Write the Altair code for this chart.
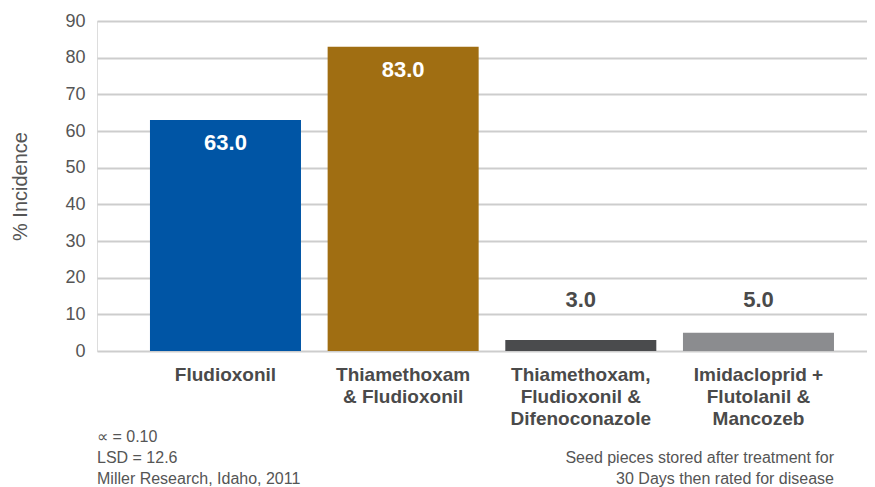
import altair as alt
import pandas as pd

categories = [
    "Fludioxonil",
    "Thiamethoxam\n& Fludioxonil",
    "Thiamethoxam,\nFludioxonil &\nDifenoconazole",
    "Imidacloprid +\nFlutolanil &\nMancozeb",
]
values = [63.0, 83.0, 3.0, 5.0]
colors = ["#0055A5", "#A06E12", "#4A4B4D", "#8B8C8F"]
y_ticks = [0, 10, 20, 30, 40, 50, 60, 70, 80, 90]
footer_left = ["\u221d = 0.10", "LSD = 12.6", "Miller Research, Idaho, 2011"]
footer_right = ["Seed pieces stored after treatment for", "30 Days then rated for disease"]

df = pd.DataFrame({"cat": categories, "value": values, "color": colors})

FONT = "Liberation Sans"
W, H = 770, 330

x_axis = alt.Axis(
    title=None,
    labelExpr="split(datum.label, '\\n')",
    labelAngle=0,
    labelFont=FONT,
    labelFontSize=19,
    labelFontWeight="bold",
    labelColor="#4A4A4A",
    labelBaseline="top",
    labelPadding=14,
    labelLineHeight=22,
    ticks=False,
    domain=False,
    grid=False,
)
x_scale = alt.Scale(paddingInner=0.15, paddingOuter=0.242, align=0.616)

y_axis = alt.Axis(
    title="% Incidence",
    values=y_ticks,
    labelOverlap=False,
    titleFont=FONT,
    titleFontSize=20,
    titleFontWeight="normal",
    titleColor="#555555",
    titlePadding=34,
    labelFont=FONT,
    labelFontSize=18,
    labelColor="#555555",
    labelPadding=12,
    ticks=False,
    domain=False,
    grid=True,
    gridColor="#CDCDCD",
    gridWidth=2,
)
y_scale = alt.Scale(domain=[0, 90], nice=False)

base = alt.Chart(df)

bars = base.mark_bar().encode(
    x=alt.X("cat:N", sort=categories, scale=x_scale, axis=x_axis),
    y=alt.Y("value:Q", scale=y_scale, axis=y_axis),
    color=alt.Color("color:N", scale=None, legend=None),
)

inside = base.transform_filter("datum.value > 20").mark_text(
    font=FONT, fontSize=22, fontWeight="bold", color="white", baseline="middle", dy=23
).encode(
    x=alt.X("cat:N", sort=categories, scale=x_scale, axis=x_axis),
    y=alt.Y("value:Q", scale=y_scale, axis=y_axis),
    text=alt.Text("value:Q", format=".1f"),
)

outside = base.transform_filter("datum.value <= 20").transform_calculate(
    ly="14"
).mark_text(
    font=FONT, fontSize=22, fontWeight="bold", color="#4A4A4A", baseline="middle"
).encode(
    x=alt.X("cat:N", sort=categories, scale=x_scale, axis=x_axis),
    y=alt.Y("ly:Q", scale=y_scale, axis=y_axis),
    text=alt.Text("value:Q", format=".1f"),
)

foot_l = alt.Chart(alt.Data(values=[{"a": 1}])).mark_text(
    text=footer_left, font=FONT, fontSize=16, color="#555555",
    align="left", baseline="top", lineHeight=21,
).encode(x=alt.value(0), y=alt.value(408))

foot_r = alt.Chart(alt.Data(values=[{"a": 1}])).mark_text(
    text=footer_right, font=FONT, fontSize=16, color="#555555",
    align="right", baseline="top", lineHeight=21,
).encode(x=alt.value(737), y=alt.value(429))

chart = alt.layer(bars, inside, outside, foot_l, foot_r).properties(
    width=W,
    height=H,
    autosize=alt.AutoSizeParams(type="none"),
    padding={"left": 89, "top": 13, "right": 0, "bottom": 140},
).configure_view(stroke=None).configure(background="white")

chart.save("out.html", embed_options={"renderer": "svg", "actions": False})
